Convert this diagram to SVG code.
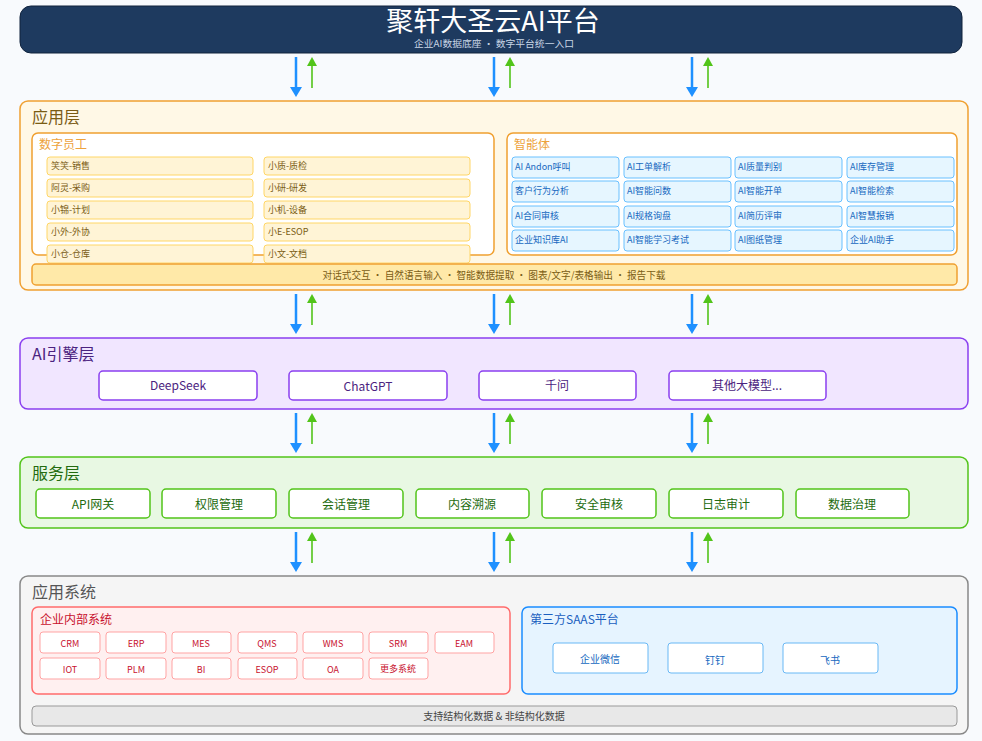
<svg xmlns="http://www.w3.org/2000/svg" width="982" height="741" viewBox="0 0 982 741">
<defs>
<style>
text{font-family:"Noto Sans CJK SC","Liberation Sans",sans-serif;}
.ad{stroke:#1e90ff;stroke-width:2.5;fill:none}
.au{stroke:#52c41a;stroke-width:1.6;fill:none}
.ah{fill:#52c41a}
.bh{fill:#1e90ff}
.lt{font-size:16px}
.emp rect{fill:#fff4d6;stroke:#ffd666;stroke-width:1}
.emp text{font-size:9px;fill:#7a5c14}
.agt rect{fill:#e6f6ff;stroke:#69c0ff;stroke-width:1}
.agt text{font-size:9px;fill:#1668c0}
.mdl rect{fill:#fff;stroke:#8a3ff0;stroke-width:1.5}
.mdl text{font-size:12px;fill:#4b2380;text-anchor:middle}
.svc rect{fill:#fff;stroke:#52c41a;stroke-width:1.5}
.svc text{font-size:12px;fill:#236b0e;text-anchor:middle}
.sys rect{fill:#fff;stroke:#ffa3a3;stroke-width:1}
.sys text{font-size:9px;fill:#c8102e;text-anchor:middle}
.saas rect{fill:#fff;stroke:#69b8f5;stroke-width:1}
.saas text{font-size:10px;fill:#1668c0;text-anchor:middle}
</style>
</defs>
<rect x="0" y="0" width="982" height="741" fill="#f8fafd"/>

<g id="header">
<rect x="20" y="6" width="942" height="47" rx="11" fill="#1e3a5f" stroke="#10233d" stroke-width="1"/>
<text x="493" y="31" font-size="27" fill="#ffffff" text-anchor="middle">聚轩大圣云AI平台</text>
<text x="494" y="47" font-size="9" fill="#c9d6e6" text-anchor="middle" textLength="160" lengthAdjust="spacingAndGlyphs">企业AI数据底座 · 数字平台统一入口</text>
</g>

<g id="connectors">
<g id="c1">
<line class="ad" x1="296" y1="57" x2="296" y2="88"/><path class="bh" d="M290,87 L302,87 L296,97 Z"/>
<line class="au" x1="312" y1="88" x2="312" y2="65"/><path class="ah" d="M307,66 L317,66 L312,57 Z"/>
<line class="ad" x1="494" y1="57" x2="494" y2="88"/><path class="bh" d="M488,87 L500,87 L494,97 Z"/>
<line class="au" x1="510" y1="88" x2="510" y2="65"/><path class="ah" d="M505,66 L515,66 L510,57 Z"/>
<line class="ad" x1="692" y1="57" x2="692" y2="88"/><path class="bh" d="M686,87 L698,87 L692,97 Z"/>
<line class="au" x1="708" y1="88" x2="708" y2="65"/><path class="ah" d="M703,66 L713,66 L708,57 Z"/>
</g>
<g id="c2">
<line class="ad" x1="296" y1="294" x2="296" y2="325"/><path class="bh" d="M290,324 L302,324 L296,334 Z"/>
<line class="au" x1="312" y1="325" x2="312" y2="302"/><path class="ah" d="M307,303 L317,303 L312,294 Z"/>
<line class="ad" x1="494" y1="294" x2="494" y2="325"/><path class="bh" d="M488,324 L500,324 L494,334 Z"/>
<line class="au" x1="510" y1="325" x2="510" y2="302"/><path class="ah" d="M505,303 L515,303 L510,294 Z"/>
<line class="ad" x1="692" y1="294" x2="692" y2="325"/><path class="bh" d="M686,324 L698,324 L692,334 Z"/>
<line class="au" x1="708" y1="325" x2="708" y2="302"/><path class="ah" d="M703,303 L713,303 L708,294 Z"/>
</g>
<g id="c3">
<line class="ad" x1="296" y1="413" x2="296" y2="444"/><path class="bh" d="M290,443 L302,443 L296,453 Z"/>
<line class="au" x1="312" y1="444" x2="312" y2="421"/><path class="ah" d="M307,422 L317,422 L312,413 Z"/>
<line class="ad" x1="494" y1="413" x2="494" y2="444"/><path class="bh" d="M488,443 L500,443 L494,453 Z"/>
<line class="au" x1="510" y1="444" x2="510" y2="421"/><path class="ah" d="M505,422 L515,422 L510,413 Z"/>
<line class="ad" x1="692" y1="413" x2="692" y2="444"/><path class="bh" d="M686,443 L698,443 L692,453 Z"/>
<line class="au" x1="708" y1="444" x2="708" y2="421"/><path class="ah" d="M703,422 L713,422 L708,413 Z"/>
</g>
<g id="c4">
<line class="ad" x1="296" y1="532" x2="296" y2="563"/><path class="bh" d="M290,562 L302,562 L296,572 Z"/>
<line class="au" x1="312" y1="563" x2="312" y2="540"/><path class="ah" d="M307,541 L317,541 L312,532 Z"/>
<line class="ad" x1="494" y1="532" x2="494" y2="563"/><path class="bh" d="M488,562 L500,562 L494,572 Z"/>
<line class="au" x1="510" y1="563" x2="510" y2="540"/><path class="ah" d="M505,541 L515,541 L510,532 Z"/>
<line class="ad" x1="692" y1="532" x2="692" y2="563"/><path class="bh" d="M686,562 L698,562 L692,572 Z"/>
<line class="au" x1="708" y1="563" x2="708" y2="540"/><path class="ah" d="M703,541 L713,541 L708,532 Z"/>
</g>
</g>

<g id="app-layer">
<rect x="20" y="101" width="948" height="189" rx="8" fill="#fff8e6" stroke="#f0a030" stroke-width="1.5"/>
<text class="lt" x="32" y="123" fill="#7a5c14">应用层</text>
</g>

<g id="digital-staff">
<rect x="32" y="133" width="462" height="122" rx="6" fill="#ffffff" stroke="#f0a030" stroke-width="1.5"/>
<text x="39" y="149" font-size="12" fill="#eda23c">数字员工</text>
<g class="emp">
<rect x="47" y="157" width="206" height="18" rx="3"/><text x="51" y="169">笑笑-销售</text>
<rect x="47" y="179" width="206" height="18" rx="3"/><text x="51" y="191">阿灵-采购</text>
<rect x="47" y="201" width="206" height="18" rx="3"/><text x="51" y="213">小锦-计划</text>
<rect x="47" y="223" width="206" height="18" rx="3"/><text x="51" y="235">小外-外协</text>
<rect x="47" y="245" width="206" height="18" rx="3"/><text x="51" y="257">小仓-仓库</text>
<rect x="264" y="157" width="206" height="18" rx="3"/><text x="268" y="169">小质-质检</text>
<rect x="264" y="179" width="206" height="18" rx="3"/><text x="268" y="191">小研-研发</text>
<rect x="264" y="201" width="206" height="18" rx="3"/><text x="268" y="213">小机-设备</text>
<rect x="264" y="223" width="206" height="18" rx="3"/><text x="268" y="235">小E-ESOP</text>
<rect x="264" y="245" width="206" height="18" rx="3"/><text x="268" y="257">小文-文档</text>
</g>
</g>

<g id="agents">
<rect x="507" y="133" width="450" height="122" rx="6" fill="#ffffff" stroke="#f0a030" stroke-width="1.5"/>
<text x="514" y="149" font-size="12" fill="#eda23c">智能体</text>
<g class="agt">
<rect x="512" y="157" width="107" height="21" rx="3"/><text x="515" y="170">AI Andon呼叫</text>
<rect x="624" y="157" width="107" height="21" rx="3"/><text x="627" y="170">AI工单解析</text>
<rect x="735" y="157" width="107" height="21" rx="3"/><text x="738" y="170">AI质量判别</text>
<rect x="847" y="157" width="107" height="21" rx="3"/><text x="850" y="170">AI库存管理</text>
<rect x="512" y="181" width="107" height="21" rx="3"/><text x="515" y="194">客户行为分析</text>
<rect x="624" y="181" width="107" height="21" rx="3"/><text x="627" y="194">AI智能问数</text>
<rect x="735" y="181" width="107" height="21" rx="3"/><text x="738" y="194">AI智能开单</text>
<rect x="847" y="181" width="107" height="21" rx="3"/><text x="850" y="194">AI智能检索</text>
<rect x="512" y="206" width="107" height="21" rx="3"/><text x="515" y="219">AI合同审核</text>
<rect x="624" y="206" width="107" height="21" rx="3"/><text x="627" y="219">AI规格询盘</text>
<rect x="735" y="206" width="107" height="21" rx="3"/><text x="738" y="219">AI简历评审</text>
<rect x="847" y="206" width="107" height="21" rx="3"/><text x="850" y="219">AI智慧报销</text>
<rect x="512" y="230" width="107" height="21" rx="3"/><text x="515" y="243">企业知识库AI</text>
<rect x="624" y="230" width="107" height="21" rx="3"/><text x="627" y="243">AI智能学习考试</text>
<rect x="735" y="230" width="107" height="21" rx="3"/><text x="738" y="243">AI图纸管理</text>
<rect x="847" y="230" width="107" height="21" rx="3"/><text x="850" y="243">企业AI助手</text>
</g>
</g>

<g id="app-features">
<rect x="32" y="264" width="925" height="21" rx="4" fill="#ffe9a8" stroke="#f0a030" stroke-width="1.5"/>
<text x="494" y="279" font-size="10" fill="#7a5c14" text-anchor="middle" textLength="343" lengthAdjust="spacingAndGlyphs">对话式交互 · 自然语言输入 · 智能数据提取 · 图表/文字/表格输出 · 报告下载</text>
</g>

<g id="ai-engine-layer">
<rect x="20" y="338" width="948" height="71" rx="8" fill="#f1e6ff" stroke="#8a3ff0" stroke-width="1.5"/>
<text class="lt" x="32" y="360" fill="#4b2380">AI引擎层</text>
<g class="mdl">
<g id="m-deepseek"><rect x="99" y="371" width="158" height="29" rx="4"/><text x="178" y="390">DeepSeek</text></g>
<g id="m-chatgpt"><rect x="289" y="371" width="158" height="29" rx="4"/><text x="368" y="391">ChatGPT</text></g>
<g id="m-qianwen"><rect x="479" y="371" width="157" height="29" rx="4"/><text x="557" y="390">千问</text></g>
<g id="m-other"><rect x="669" y="371" width="157" height="29" rx="4"/><text x="747" y="390">其他大模型...</text></g>
</g>
</g>

<g id="service-layer">
<rect x="20" y="457" width="948" height="71" rx="8" fill="#e8f8e3" stroke="#52c41a" stroke-width="1.5"/>
<text class="lt" x="32" y="479" fill="#236b0e">服务层</text>
<g class="svc">
<g id="s-api"><rect x="36" y="489" width="114" height="29" rx="4"/><text x="93" y="509">API网关</text></g>
<g id="s-auth"><rect x="162" y="489" width="114" height="29" rx="4"/><text x="219" y="509">权限管理</text></g>
<g id="s-session"><rect x="289" y="489" width="114" height="29" rx="4"/><text x="346" y="509">会话管理</text></g>
<g id="s-trace"><rect x="416" y="489" width="113" height="29" rx="4"/><text x="472" y="509">内容溯源</text></g>
<g id="s-security"><rect x="542" y="489" width="114" height="29" rx="4"/><text x="599" y="509">安全审核</text></g>
<g id="s-audit"><rect x="669" y="489" width="114" height="29" rx="4"/><text x="726" y="509">日志审计</text></g>
<g id="s-gov"><rect x="796" y="489" width="113" height="29" rx="4"/><text x="852" y="509">数据治理</text></g>
</g>
</g>

<g id="app-systems">
<rect x="20" y="576" width="948" height="158" rx="8" fill="#f5f5f5" stroke="#888888" stroke-width="1.5"/>
<text class="lt" x="32" y="598" fill="#555555">应用系统</text>
</g>

<g id="internal-systems">
<rect x="32" y="607" width="478" height="87" rx="6" fill="#fff0f0" stroke="#ff6b6b" stroke-width="1.5"/>
<text x="40" y="624" font-size="12" fill="#c8102e">企业内部系统</text>
<g class="sys">
<rect x="40" y="632" width="60" height="21" rx="3"/><text x="70" y="647">CRM</text>
<rect x="106" y="632" width="60" height="21" rx="3"/><text x="136" y="647">ERP</text>
<rect x="172" y="632" width="59" height="21" rx="3"/><text x="201" y="647">MES</text>
<rect x="238" y="632" width="59" height="21" rx="3"/><text x="267" y="647">QMS</text>
<rect x="303" y="632" width="60" height="21" rx="3"/><text x="333" y="647">WMS</text>
<rect x="369" y="632" width="59" height="21" rx="3"/><text x="398" y="647">SRM</text>
<rect x="435" y="632" width="59" height="21" rx="3"/><text x="464" y="647">EAM</text>
<rect x="40" y="658" width="60" height="21" rx="3"/><text x="70" y="673">IOT</text>
<rect x="106" y="658" width="60" height="21" rx="3"/><text x="136" y="673">PLM</text>
<rect x="172" y="658" width="59" height="21" rx="3"/><text x="201" y="673">BI</text>
<rect x="238" y="658" width="59" height="21" rx="3"/><text x="267" y="673">ESOP</text>
<rect x="303" y="658" width="60" height="21" rx="3"/><text x="333" y="673">OA</text>
<rect x="369" y="658" width="59" height="21" rx="3"/><text x="398" y="672">更多系统</text>
</g>
</g>

<g id="saas">
<rect x="522" y="607" width="435" height="87" rx="6" fill="#e6f4ff" stroke="#1a8cff" stroke-width="1.5"/>
<text x="530" y="624" font-size="12" fill="#1a5fc0">第三方SAAS平台</text>
<g class="saas">
<rect x="553" y="643" width="95" height="30" rx="3"/><text x="600" y="663">企业微信</text>
<rect x="668" y="643" width="95" height="30" rx="3"/><text x="715" y="664">钉钉</text>
<rect x="783" y="643" width="95" height="30" rx="3"/><text x="830" y="664">飞书</text>
</g>
</g>

<g id="data-support">
<rect x="32" y="706" width="925" height="20" rx="4" fill="#e8e8e8" stroke="#999999" stroke-width="1"/>
<text x="494" y="720" font-size="10" fill="#444444" text-anchor="middle">支持结构化数据 &amp; 非结构化数据</text>
</g>
</svg>
